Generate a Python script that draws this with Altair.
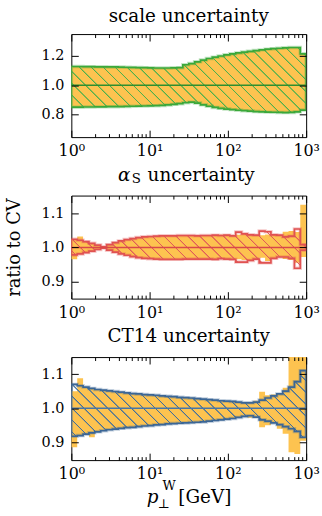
import altair as alt
import pandas as pd

# ---------------- data ----------------
EDGES = [1.0, 1.189, 1.413, 1.679, 1.995, 2.371, 2.818, 3.350, 3.981, 4.732,
         5.623, 6.683, 7.943, 9.441, 11.22, 13.34, 15.85, 18.84, 22.39, 26.61,
         31.62, 37.58, 44.67, 53.09, 63.10, 74.99, 89.13, 105.9, 125.9, 149.6,
         177.8, 211.3, 251.2, 298.5, 354.8, 421.7, 501.2, 595.7, 707.9, 841.4, 1000.0]

SCALE_HI = [1.128, 1.128, 1.127, 1.127, 1.126, 1.126, 1.125, 1.125, 1.124, 1.123,
            1.122, 1.121, 1.120, 1.119, 1.118, 1.118, 1.118, 1.119, 1.120, 1.140,
            1.148, 1.160, 1.172, 1.183, 1.192, 1.200, 1.208, 1.215, 1.221, 1.227,
            1.232, 1.237, 1.242, 1.247, 1.250, 1.253, 1.256, 1.258, 1.258, 1.215]
SCALE_LO = [0.850, 0.850, 0.851, 0.851, 0.852, 0.852, 0.853, 0.853, 0.854, 0.855,
            0.856, 0.857, 0.858, 0.859, 0.860, 0.862, 0.865, 0.869, 0.874, 0.880,
            0.884, 0.878, 0.866, 0.856, 0.848, 0.842, 0.837, 0.833, 0.829, 0.826,
            0.823, 0.820, 0.818, 0.816, 0.815, 0.814, 0.813, 0.814, 0.818, 0.830]

AS_HI = [1.024, 1.021, 1.017, 1.012, 1.007, 1.002, 1.008, 1.014, 1.019, 1.023,
         1.026, 1.029, 1.031, 1.032, 1.033, 1.034, 1.034, 1.034, 1.035, 1.035,
         1.035, 1.034, 1.035, 1.035, 1.036, 1.035, 1.036, 1.034, 1.045, 1.040,
         1.037, 1.036, 1.048, 1.046, 1.037, 1.036, 1.031, 1.033, 1.054, 1.008]
AS_LO = [0.978, 0.981, 0.985, 0.989, 0.994, 0.998, 0.992, 0.986, 0.981, 0.977,
         0.973, 0.970, 0.968, 0.967, 0.966, 0.965, 0.965, 0.965, 0.965, 0.966,
         0.966, 0.966, 0.966, 0.966, 0.965, 0.967, 0.966, 0.965, 0.957, 0.957,
         0.962, 0.966, 0.955, 0.955, 0.968, 0.972, 0.972, 0.968, 0.939, 0.992]
AS_BAND_HI = [1.024, 1.032, 1.019, 1.012, 1.007, 1.002, 1.008, 1.014, 1.019, 1.023,
              1.026, 1.029, 1.031, 1.032, 1.033, 1.034, 1.034, 1.034, 1.035, 1.035,
              1.035, 1.034, 1.035, 1.035, 1.036, 1.037, 1.037, 1.034, 1.037, 1.040,
              1.037, 1.036, 1.036, 1.038, 1.037, 1.036, 1.046, 1.048, 1.045, 1.125]
AS_BAND_LO = [0.965, 0.981, 0.985, 0.989, 0.994, 0.998, 0.992, 0.986, 0.981, 0.977,
              0.973, 0.970, 0.968, 0.967, 0.966, 0.965, 0.965, 0.965, 0.965, 0.966,
              0.966, 0.966, 0.966, 0.966, 0.965, 0.967, 0.966, 0.965, 0.965, 0.963,
              0.962, 0.966, 0.970, 0.960, 0.968, 0.972, 0.966, 0.963, 0.955, 0.972]

CT_HI = [1.070, 1.066, 1.062, 1.058, 1.055, 1.053, 1.051, 1.049, 1.047, 1.045,
         1.043, 1.042, 1.040, 1.039, 1.038, 1.036, 1.035, 1.034, 1.032, 1.031,
         1.030, 1.028, 1.027, 1.025, 1.024, 1.022, 1.021, 1.020, 1.018, 1.016,
         1.016, 1.018, 1.024, 1.030, 1.036, 1.042, 1.050, 1.062, 1.078, 1.110]
CT_LO = [0.918, 0.920, 0.924, 0.928, 0.931, 0.934, 0.937, 0.939, 0.941, 0.943,
         0.944, 0.946, 0.948, 0.949, 0.951, 0.952, 0.954, 0.955, 0.956, 0.957,
         0.958, 0.959, 0.960, 0.962, 0.964, 0.966, 0.968, 0.970, 0.973, 0.976,
         0.978, 0.974, 0.966, 0.962, 0.957, 0.952, 0.946, 0.940, 0.932, 0.915]
CT_BAND_HI = [1.050, 1.088, 1.062, 1.058, 1.055, 1.053, 1.051, 1.049, 1.047, 1.045,
              1.043, 1.042, 1.040, 1.039, 1.038, 1.036, 1.035, 1.034, 1.032, 1.031,
              1.030, 1.028, 1.027, 1.025, 1.024, 1.022, 1.021, 1.020, 1.018, 1.016,
              1.016, 1.022, 1.048, 1.038, 1.040, 1.042, 1.060, 1.200, 1.200, 1.200]
CT_BAND_LO = [0.886, 0.921, 0.924, 0.915, 0.931, 0.934, 0.937, 0.939, 0.941, 0.943,
              0.944, 0.946, 0.948, 0.949, 0.951, 0.952, 0.954, 0.955, 0.956, 0.957,
              0.958, 0.959, 0.960, 0.962, 0.964, 0.966, 0.968, 0.970, 0.973, 0.976,
              0.972, 0.974, 0.944, 0.950, 0.957, 0.940, 0.925, 0.871, 0.866, 0.905]

PANEL_TITLES = ["scale uncertainty", "", "CT14 uncertainty"]
AS_TITLE = ["α", "S", "uncertainty"]
X_TITLE = ["p", "W", "⊥", "[GeV]"]
Y_TITLE = "ratio to CV"
MAJOR_X = [1, 10, 100, 1000]
MINOR_X = [2, 3, 4, 5, 6, 7, 8, 9, 20, 30, 40, 50, 60, 70, 80, 90,
           200, 300, 400, 500, 600, 700, 800, 900]
X_LABELS = {1: "10⁰", 10: "10¹", 100: "10²", 1000: "10³"}

# ---------------- style ----------------
FONT = "DejaVu Serif"
ORANGE = "#fdc350"
PW, PH = 237, 104
HATCH_STEP = 12.0
LABEL_EXPR = " : ".join(
    [f"datum.value == {k} ? '{v}'" for k, v in X_LABELS.items()]) + " : ''"


def x_axis(orient, values, size, labels):
    kw = dict(orient=orient, values=values, tickSize=size, offset=-size,
              domain=False, grid=False, ticks=True, tickColor="black",
              tickWidth=1, title=None, labels=labels, zindex=1,
              minExtent=0, maxExtent=60)
    if labels:
        kw.update(labelExpr=LABEL_EXPR, labelFont=FONT, labelFontSize=16,
                  labelPadding=6, labelFlush=False, labelOverlap=False,
                  labelColor="black")
    return alt.Axis(**kw)


def y_axis(orient, values, labels, title=None):
    kw = dict(orient=orient, values=values, tickSize=7, offset=-7,
              domain=False, grid=False, ticks=True, tickColor="black",
              tickWidth=1, labels=labels, zindex=1, minExtent=0, maxExtent=120)
    if labels:
        kw.update(format=".1f", labelFont=FONT, labelFontSize=14.5,
                  labelPadding=7.5, labelColor="black")
    if title:
        kw.update(title=title, titleFont=FONT, titleFontSize=18,
                  titleFontWeight="normal", titlePadding=18, titleColor="black")
    else:
        kw["title"] = None
    return alt.Axis(**kw)


def hatch_fill(lo, hi, ydom, rgb):
    lo_c = max(min(lo), ydom[0])
    hi_c = min(max(hi), ydom[1])
    hb = (hi_c - lo_c) / (ydom[1] - ydom[0]) * PH
    span = PW + hb
    k = span / (PW ** 2 + hb ** 2)
    on = f"rgba({rgb[0]},{rgb[1]},{rgb[2]},1)"
    off = f"rgba({rgb[0]},{rgb[1]},{rgb[2]},0)"
    d = 1.0 / span
    stops = [alt.GradientStop(offset=0, color=off)]
    j = 0
    while True:
        t = HATCH_STEP * (j + 0.5) / span
        if t + 1.1 * d >= 1:
            break
        stops += [alt.GradientStop(offset=t - 1.0 * d, color=off),
                  alt.GradientStop(offset=t - 0.35 * d, color=on),
                  alt.GradientStop(offset=t + 0.35 * d, color=on),
                  alt.GradientStop(offset=t + 1.0 * d, color=off)]
        j += 1
    stops.append(alt.GradientStop(offset=1, color=off))
    return alt.LinearGradient(gradient="linear", stops=stops,
                              x1=0, y1=1, x2=PW * k, y2=1 - hb * k)


def panel(lo, hi, blo, bhi, ydom, yticks, line_col, hatch_rgb, cv_col,
          ytitle=None):
    df = pd.DataFrame({
        "x": EDGES,
        "lo": lo + lo[-1:], "hi": hi + hi[-1:],
        "blo": blo + blo[-1:], "bhi": bhi + bhi[-1:],
        "cv": [1.0] * len(EDGES),
    })
    xs = alt.Scale(type="log", domain=[1, 1000], nice=False)
    ys = alt.Scale(domain=ydom, nice=False, zero=False)
    base = alt.Chart(df)
    band = base.mark_area(interpolate="step-after", color=ORANGE, clip=True).encode(
        x=alt.X("x:Q", scale=xs, axis=x_axis("bottom", MAJOR_X, 7, True)),
        y=alt.Y("blo:Q", scale=ys, axis=y_axis("left", yticks, True, ytitle)),
        y2="bhi:Q")
    halo = base.mark_area(interpolate="step-after", fill=line_col, fillOpacity=0,
                          stroke=line_col, strokeOpacity=0.3, strokeWidth=3.5,
                          clip=True).encode(
        x=alt.X("x:Q", scale=xs, axis=x_axis("bottom", MINOR_X, 3.5, False)),
        y=alt.Y("lo:Q", scale=ys, axis=y_axis("right", yticks, False)),
        y2="hi:Q")
    hatch = base.mark_area(interpolate="step-after",
                           fill=hatch_fill(lo, hi, ydom, hatch_rgb),
                           stroke=line_col, strokeWidth=1.7, clip=True).encode(
        x=alt.X("x:Q", scale=xs, axis=x_axis("top", MAJOR_X, 7, False)),
        y=alt.Y("lo:Q", scale=ys, axis=None),
        y2="hi:Q")
    cv = base.mark_line(color=cv_col, strokeWidth=1.6, clip=True).encode(
        x=alt.X("x:Q", scale=xs, axis=x_axis("top", MINOR_X, 3.5, False)),
        y=alt.Y("cv:Q", scale=ys, axis=None))
    return [band, halo, hatch, cv]


def text_layer(txt, x, y, size, italic=False):
    kw = dict(align="left", baseline="alphabetic", font=FONT, fontSize=size,
              color="black")
    if italic:
        kw["fontStyle"] = "italic"
    return alt.Chart(pd.DataFrame({"t": [txt]})).mark_text(**kw).encode(
        text="t:N", x=alt.value(x), y=alt.value(y))


def title_of(text, offset):
    return alt.Title(text, font=FONT, fontSize=18.5, fontWeight="normal",
                     offset=offset, anchor="middle", frame="group",
                     color="black")


p1 = alt.layer(*panel(SCALE_LO, SCALE_HI, SCALE_LO, SCALE_HI, [0.645, 1.35],
                      [0.8, 1.0, 1.2], "#3aa83a", (76, 176, 76), "#2f8f2f")
               ).resolve_axis(x="independent", y="independent").properties(
    width=PW, height=PH, title=title_of(PANEL_TITLES[0], 8))

p2_layers = panel(AS_LO, AS_HI, AS_BAND_LO, AS_BAND_HI, [0.85, 1.152],
                  [0.9, 1.0, 1.1], "#e05252", (224, 90, 90), "#d94848",
                  ytitle=Y_TITLE)
p2_layers += [text_layer(AS_TITLE[0], 47, -15, 18.5, italic=True),
              text_layer(AS_TITLE[1], 61, -12.5, 13.5),
              text_layer(AS_TITLE[2], 77, -15, 18.5)]
p2 = alt.layer(*p2_layers).resolve_axis(x="independent", y="independent").properties(
    width=PW, height=PH)

p3_layers = panel(CT_LO, CT_HI, CT_BAND_LO, CT_BAND_HI, [0.848, 1.15],
                  [0.9, 1.0, 1.1], "#3b6696", (63, 110, 158), "#4876a6")
p3_layers += [text_layer(X_TITLE[0], 76, 147, 18.5, italic=True),
              text_layer(X_TITLE[1], 92, 134, 13),
              text_layer(X_TITLE[2], 87, 152, 13),
              text_layer(X_TITLE[3], 108, 147, 18.5)]
p3 = alt.layer(*p3_layers).resolve_axis(x="independent", y="independent").properties(
    width=PW, height=PH, title=title_of(PANEL_TITLES[2], 11))

chart = alt.vconcat(p1, p2, p3, spacing=5).properties(
    padding={"left": 4, "top": 4, "right": 2, "bottom": 0}
).configure(font=FONT).configure_view(stroke="black", strokeWidth=1)

chart.save("out.html", embed_options={"renderer": "svg", "actions": False})
